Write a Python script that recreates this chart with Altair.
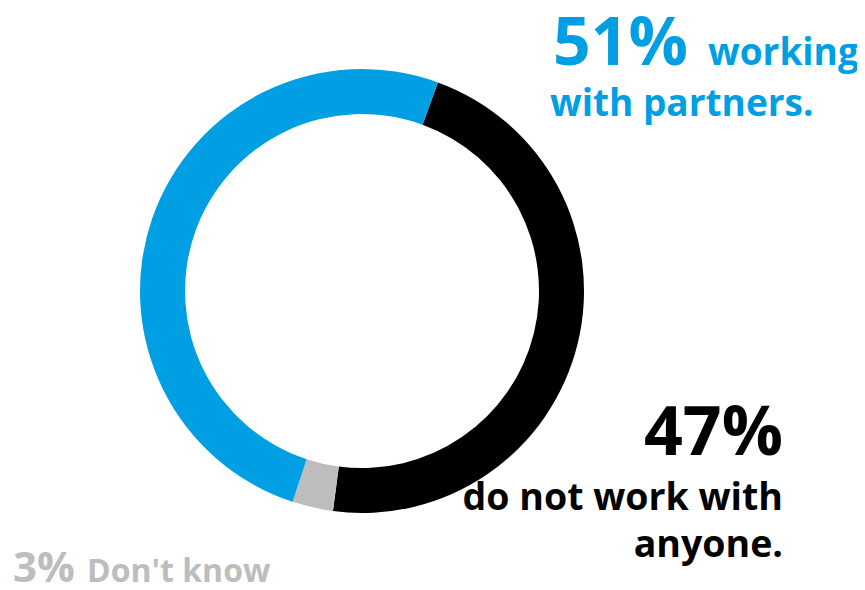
import math
import altair as alt
import pandas as pd

categories = ["do not work with anyone", "Don't know", "working with partners"]
values = [47, 3, 51]
colors = ["#000000", "#BDBDBD", "#009FE3"]
order = [1, 2, 3]

df = pd.DataFrame({"category": categories, "value": values, "order": order})

start = math.radians(20)

W, H = 849, 574
FONT = "Open Sans"

donut = alt.Chart(df).mark_arc(outerRadius=222, innerRadius=177).encode(
    theta=alt.Theta("value:Q", stack=True,
                    scale=alt.Scale(range=[start, start + 2 * math.pi])),
    color=alt.Color("category:N", scale=alt.Scale(domain=categories, range=colors), legend=None),
    order=alt.Order("order:Q"),
    x=alt.value(354),
    y=alt.value(283),
)

def label(text, x, y, size, color, align="left"):
    return alt.Chart(pd.DataFrame({"t": [text]})).mark_text(
        font=FONT, fontWeight="bold", fontSize=size, color=color,
        align=align, baseline="alphabetic", x=x, y=y,
    ).encode(text="t:N")

blue, black, grey = colors[2], colors[0], colors[1]
texts = [
    label(f"{values[2]}%", 545, 57, 66, blue),
    label("working", 700, 57, 37, blue),
    label("with partners.", 542, 108, 37, blue),
    label(f"{values[0]}%", 775, 447, 68, black, "right"),
    label("do not work with", 775, 502, 37.5, black, "right"),
    label("anyone.", 775, 549, 37.5, black, "right"),
    label(f"{values[1]}%", 5, 574, 42, grey),
    label("Don't know", 79, 574, 32, grey),
]

chart = alt.layer(donut, *texts).properties(
    width=W, height=H, padding=0, autosize=alt.AutoSizeParams(type="none")
).configure_view(stroke=None)

chart.save("out.html", embed_options={"renderer": "svg", "actions": False})
